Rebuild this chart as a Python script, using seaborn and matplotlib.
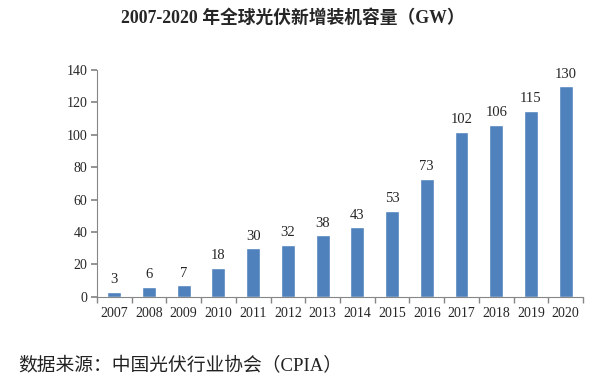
import matplotlib
matplotlib.use("Agg")
import matplotlib.pyplot as plt
import seaborn as sns
import pandas as pd
import numpy as np
from matplotlib.ticker import FixedLocator

years = ["2007", "2008", "2009", "2010", "2011", "2012", "2013",
         "2014", "2015", "2016", "2017", "2018", "2019", "2020"]
capacity = [3, 6, 7, 18, 30, 32, 38, 43, 53, 73, 102, 106, 115, 130]
yticks = [0, 20, 40, 60, 80, 100, 120, 140]
title = "2007-2020 年全球光伏新增装机容量（GW）"
source = "数据来源：中国光伏行业协会（CPIA）"

sns.set_theme(style="white")
plt.rcParams['font.family'] = ['Liberation Serif', 'Noto Sans CJK SC', 'DejaVu Sans']

df = pd.DataFrame({"year": years, "cap": capacity})

fig = plt.figure(figsize=(5.98, 3.85), dpi=100)
ax = fig.add_axes([0.162, 0.229, 0.813, 0.589])
sns.barplot(data=df, x="year", y="cap", color="#4F81BD", width=0.4,
            saturation=1, ax=ax)

ax.set_ylim(0, 140)
ax.set_yticks(yticks)
ax.set_xlim(-0.5, len(years) - 0.5)
ax.set_xlabel("")
ax.set_ylabel("")
for s in ["top", "right"]:
    ax.spines[s].set_visible(False)
for s in ["left", "bottom"]:
    ax.spines[s].set_color("#868686")
    ax.spines[s].set_linewidth(0.8)

ax.tick_params(axis="y", which="major", length=4, color="#868686",
               labelsize=10, left=True, pad=3)
ax.tick_params(axis="x", which="major", length=0, labelsize=10, pad=7)
ax.xaxis.set_minor_locator(FixedLocator(np.arange(-0.5, len(years), 1.0)))
ax.tick_params(axis="x", which="minor", length=4, color="#868686", bottom=True)

for i, v in enumerate(capacity):
    ax.text(i, v + 3.5, str(v), ha="center", va="bottom", fontsize=10.5)

fig.text(0.49, 0.952, title, ha="center", va="center", fontsize=12.8,
         fontweight="bold")
fig.text(0.03, 0.05, source, ha="left", va="center", fontsize=13.5,
         color="#222222")

fig.savefig("out.png", dpi=100)
